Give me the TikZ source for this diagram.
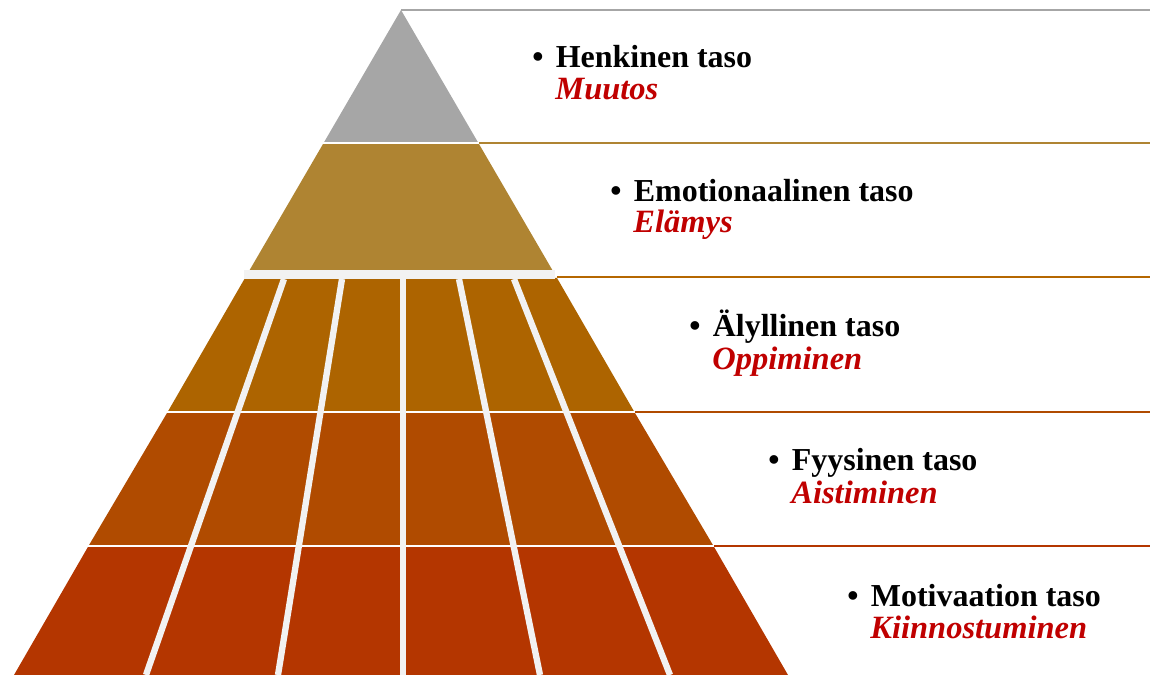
\documentclass[tikz,border=0pt]{standalone}
\usepackage{fontspec}
\setmainfont{Liberation Serif}

\definecolor{tierGrey}{HTML}{A6A6A6}
\definecolor{tierGold}{HTML}{AF8432}
\definecolor{tierAmber}{HTML}{AD6400}
\definecolor{tierRust}{HTML}{B04B00}
\definecolor{tierBrick}{HTML}{B43600}
\definecolor{gapGrey}{HTML}{F2F2F2}
\definecolor{labelRed}{HTML}{C00000}

\begin{document}
\begin{tikzpicture}[x = 0.02cm, y = -0.02cm,
	level/.style = {font = \fontsize{18.2}{20}\selectfont\bfseries, anchor = base west, inner sep = 0pt},
	sublevel/.style = {font = \fontsize{18.5}{20}\selectfont\bfseries\itshape, text = labelRed, anchor = base west, inner sep = 0pt},
	column/.style = {gapGrey, line width = 3.6pt},
	seam/.style = {white, line width = 1.3pt},
	rule/.style = {line width = 1.5pt}]

	\useasboundingbox (0, 0) rectangle (1150, 675);

	% Pyramid tiers
	
	\fill [tierGrey] (401, 10) -- (478.4, 143) -- (323.6, 143) -- cycle;
	\fill [tierGold] (323.6, 143) -- (478.4, 143) -- (553.5, 272) -- (248.5, 272) -- cycle;
	\fill [tierAmber] (245, 278) -- (557, 278) -- (634.4, 412) -- (167.6, 412) -- cycle;
	\fill [tierRust] (167.6, 412) -- (634.4, 412) -- (713.5, 546) -- (88.5, 546) -- cycle;
	\fill [tierBrick] (88.5, 546) -- (713.5, 546) -- (788, 675) -- (14, 675) -- cycle;
	
	% Gaps between tiers
	
	\draw [seam] (322, 143) -- (480, 143);
	\fill [gapGrey] (244, 270) rectangle (555, 279);
	\draw [seam] (166, 412) -- (636, 412);
	\draw [seam] (87, 546) -- (715, 546);
	
	% Columns of the lower tiers
	
	\draw [column] (284, 279) -- (146, 675);
	\draw [column] (342, 279) -- (278, 675);
	\draw [column] (403, 279) -- (403, 675);
	\draw [column] (459, 279) -- (540, 675);
	\draw [column] (514, 279) -- (670, 675);
	
	% Rules to the right
	
	\coordinate (r0) at (401, 10);
	\coordinate (r1) at (479, 143);
	\coordinate (r2) at (557, 277);
	\coordinate (r3) at (635, 412);
	\coordinate (r4) at (714, 546);
	
	\draw [rule, tierGrey] (r0) -- (r0 -| 1150, 0);
	\draw [rule, tierGold] (r1) -- (r1 -| 1150, 0);
	\draw [rule, tierAmber!90!orange] (r2) -- (r2 -| 1150, 0);
	\draw [rule, tierRust] (r3) -- (r3 -| 1150, 0);
	\draw [rule, tierBrick] (r4) -- (r4 -| 1150, 0);
	
	% Labels
	
	\node [level] (henkinen) at (532, 68) {\textbullet\hspace{7pt}Henkinen taso};
	\node [sublevel] (muutos) at (555, 100) {Muutos};
	
	\node [level] (emotionaalinen) at (610, 202) {\textbullet\hspace{7pt}Emotionaalinen taso};
	\node [sublevel] (elamys) at (633, 233) {Elämys};
	
	\node [level] (alyllinen) at (689, 337) {\textbullet\hspace{7pt}Älyllinen taso};
	\node [sublevel] (oppiminen) at (712, 370) {Oppiminen};
	
	\node [level] (fyysinen) at (768, 471) {\textbullet\hspace{7pt}Fyysinen taso};
	\node [sublevel] (aistiminen) at (791, 503) {Aistiminen};
	
	\node [level] (motivaation) at (847, 606) {\textbullet\hspace{7pt}Motivaation taso};
	\node [sublevel] (kiinnostuminen) at (870, 638) {Kiinnostuminen};
	
\end{tikzpicture}
\end{document}
